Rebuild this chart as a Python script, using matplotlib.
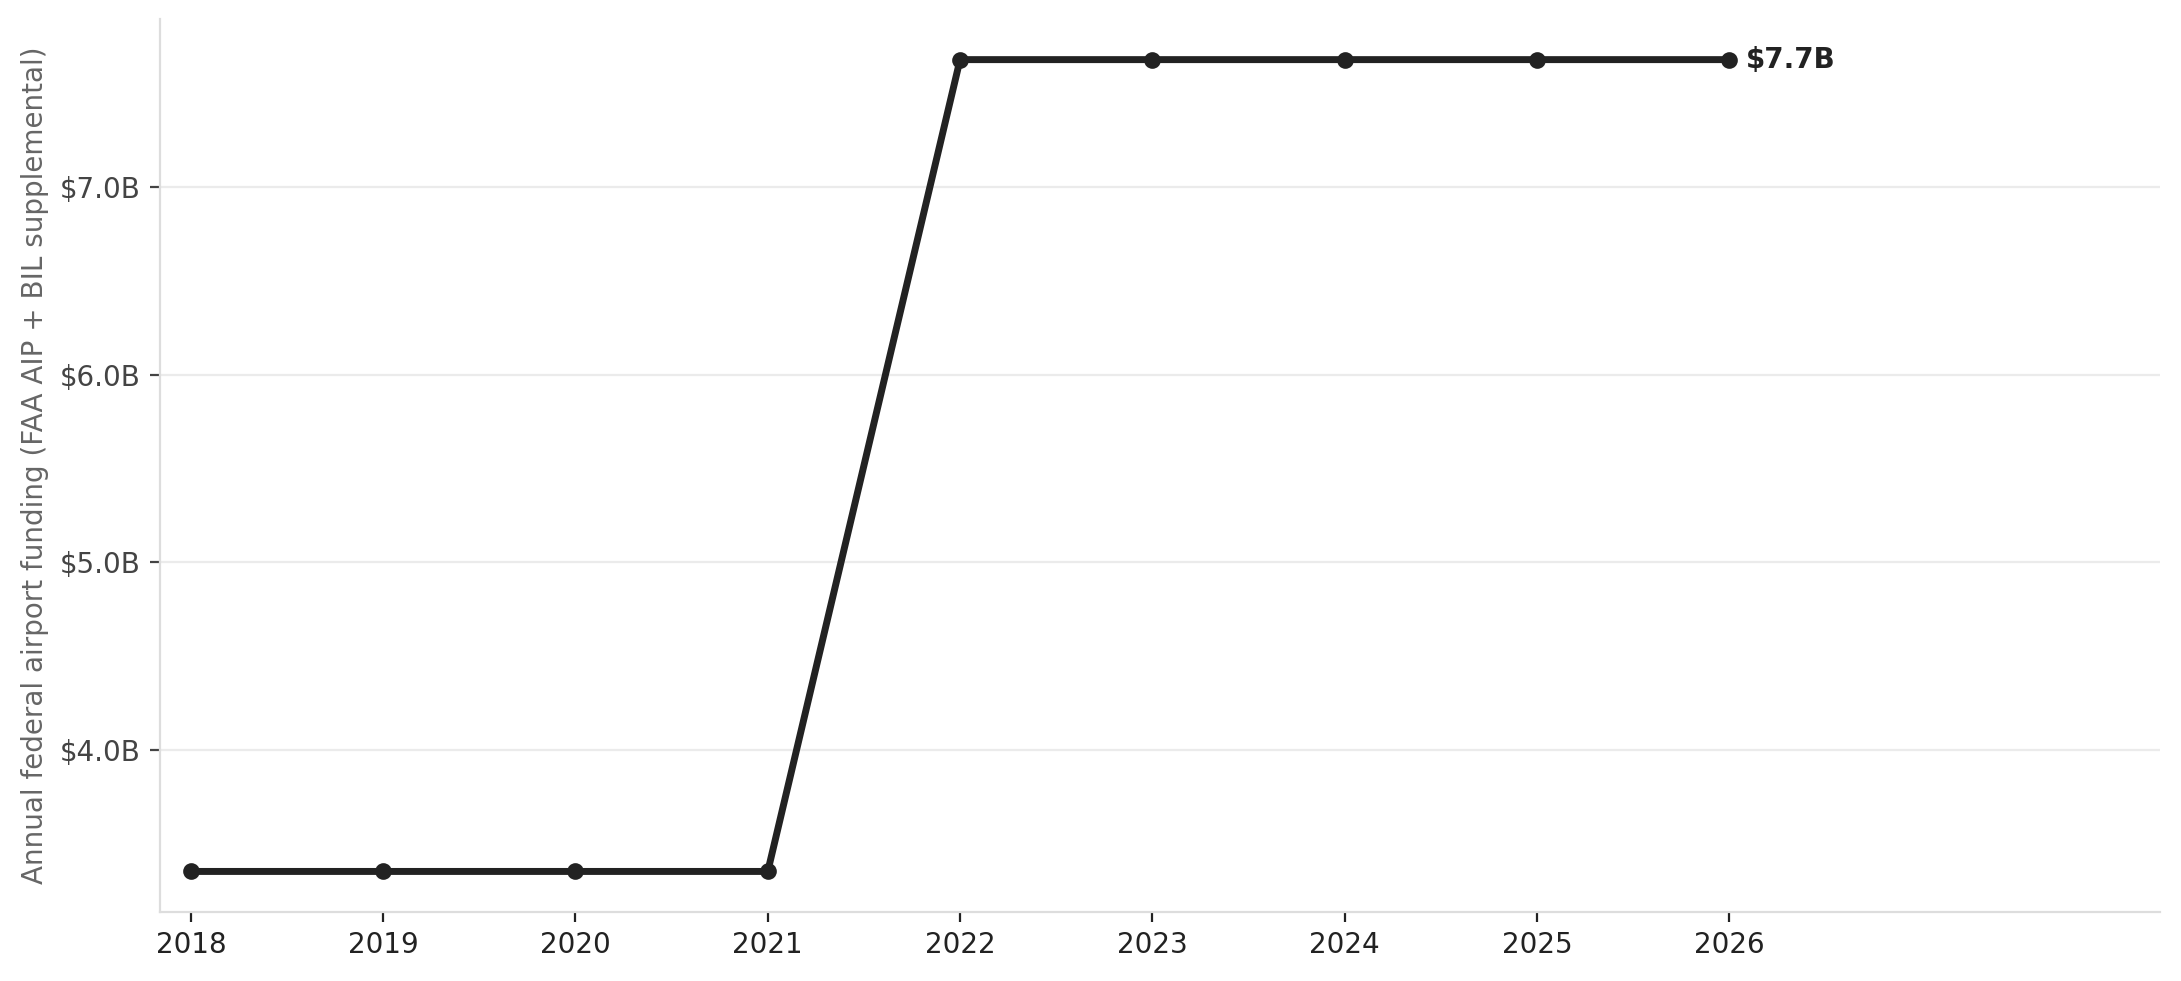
import matplotlib

matplotlib.use("Agg")
from matplotlib import pyplot as plt
from matplotlib.ticker import FuncFormatter

# Data (billions of dollars per year)
years = [2018, 2019, 2020, 2021, 2022, 2023, 2024, 2025, 2026]
funding = [3.35, 3.35, 3.35, 3.35, 7.68, 7.68, 7.68, 7.68, 7.68]
y_ticks = [4.0, 5.0, 6.0, 7.0]
end_label = "$7.7B"

line_color = "#222222"

fig = plt.figure(figsize=(10.905, 4.905), dpi=200)
ax = fig.add_axes([0.0734, 0.0703, 0.917, 0.9103])

ax.plot(years, funding, "o-", color=line_color, linewidth=2.5, markersize=5, zorder=3)
ax.annotate(
    end_label,
    xy=(years[-1], funding[-1]),
    xytext=(6, 0),
    textcoords="offset points",
    ha="left",
    va="center",
    fontsize=10,
    fontweight="bold",
    color=line_color,
)

ax.set_xlim(2017.84, 2028.24)
ax.set_xticks(years)
ax.set_yticks(y_ticks)
ax.yaxis.set_major_formatter(FuncFormatter(lambda v, _: f"${v:.1f}B"))

ax.grid(axis="y", color="#ebebeb", linewidth=0.8)
ax.set_axisbelow(True)
for side in ["top", "right"]:
    ax.spines[side].set_visible(False)
for side in ["left", "bottom"]:
    ax.spines[side].set_color("#dddddd")
    ax.spines[side].set_linewidth(0.8)

ax.tick_params(axis="both", labelsize=10, length=3.5, width=0.8)
ax.tick_params(axis="x", colors="#222222")
ax.tick_params(axis="y", colors="#444444")
ax.set_ylabel("Annual federal airport funding (FAA AIP + BIL supplemental)", fontsize=10, color="#666666")

fig.savefig("out.png", dpi=200)
